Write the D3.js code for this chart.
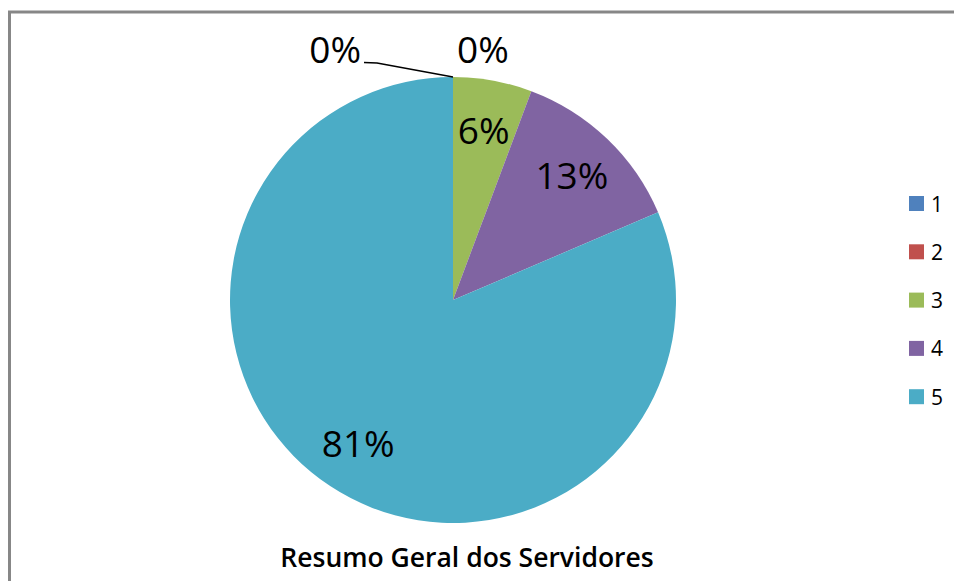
<!DOCTYPE html>
<html>
<head>
<meta charset="utf-8">
<script src="https://cdn.jsdelivr.net/npm/d3@7"></script>
<style>
    body { margin: 0; background: #fff; overflow: hidden; }
    svg { display: block; }
    text { font-family: "Open Sans", Lato, sans-serif; fill: #000; }
</style>
</head>
<body>
<svg id="chart" width="954" height="581"></svg>
<script>
// valores (proporcoes das fatias)
var categories = ["1", "2", "3", "4", "5"];
var values = [0, 0, 4, 9, 57];
var colors = ["#4F81BD", "#C0504D", "#9BBB59", "#8064A2", "#4BACC6"];
var title = "Resumo Geral dos Servidores";

var svg = d3.select("#chart");
var cx = 453, cy = 300, r = 223;

// moldura do grafico: so aparecem as bordas de cima e da esquerda
svg.append("path")
    .attr("d", "M9.5,581V12H954")
    .attr("fill", "none")
    .attr("stroke", "#878787")
    .attr("stroke-width", 3);

var total = d3.sum(values);
var pie = d3.pie().sort(null).value(d => d);
var arcs = pie(values);
var arc = d3.arc().innerRadius(0).outerRadius(r);
var labelArc = d3.arc().innerRadius(172).outerRadius(172);
var color = d3.scaleOrdinal().domain(categories).range(colors);

var g = svg.append("g").attr("transform", "translate(" + cx + "," + cy + ")");

g.selectAll("path.slice")
    .data(arcs)
    .join("path")
    .attr("class", "slice")
    .attr("d", arc)
    .attr("fill", (d, i) => color(categories[i]));

var pct = d => Math.round(d.value / total * 100) + "%";

// rotulos das fatias com valor
g.selectAll("text.lbl")
    .data(arcs.filter(d => d.value > 0))
    .join("text")
    .attr("class", "lbl")
    .attr("transform", d => "translate(" + labelArc.centroid(d) + ")")
    .attr("text-anchor", "middle")
    .attr("dy", "0.36em")
    .style("font-size", "37px")
    .text(pct);

// rotulos das fatias zeradas (fora da pizza)
var zeros = arcs.filter(d => d.value === 0);
var edge = [Math.sin(zeros[0].startAngle) * r, -Math.cos(zeros[0].startAngle) * r];

g.append("path")
    .attr("d", d3.line()([[edge[0] - 89, edge[1] - 14.5], [edge[0] - 76, edge[1] - 14], edge]))
    .attr("fill", "none")
    .attr("stroke", "#000")
    .attr("stroke-width", 1.5);

g.append("text")
    .attr("x", edge[0] - 92).attr("y", edge[1] - 14)
    .attr("text-anchor", "end")
    .style("font-size", "37px")
    .text(pct(zeros[0]));

g.append("text")
    .attr("x", edge[0] + 4).attr("y", edge[1] - 14)
    .style("font-size", "37px")
    .text(pct(zeros[1]));

// legenda
var legend = svg.append("g").attr("transform", "translate(909,196)");
var row = legend.selectAll("g.row")
    .data(categories)
    .join("g")
    .attr("class", "row")
    .attr("transform", (d, i) => "translate(0," + (i * 48.3) + ")");
row.append("rect")
    .attr("width", 15).attr("height", 15)
    .attr("fill", d => color(d));
row.append("text")
    .attr("x", 22).attr("y", 15.5)
    .style("font-size", "21px")
    .text(d => d);

// titulo
svg.append("text")
    .attr("x", 467).attr("y", 567)
    .attr("text-anchor", "middle")
    .style("font-size", "26.5px")
    .style("font-weight", "600")
    .text(title);
</script>
</body>
</html>
